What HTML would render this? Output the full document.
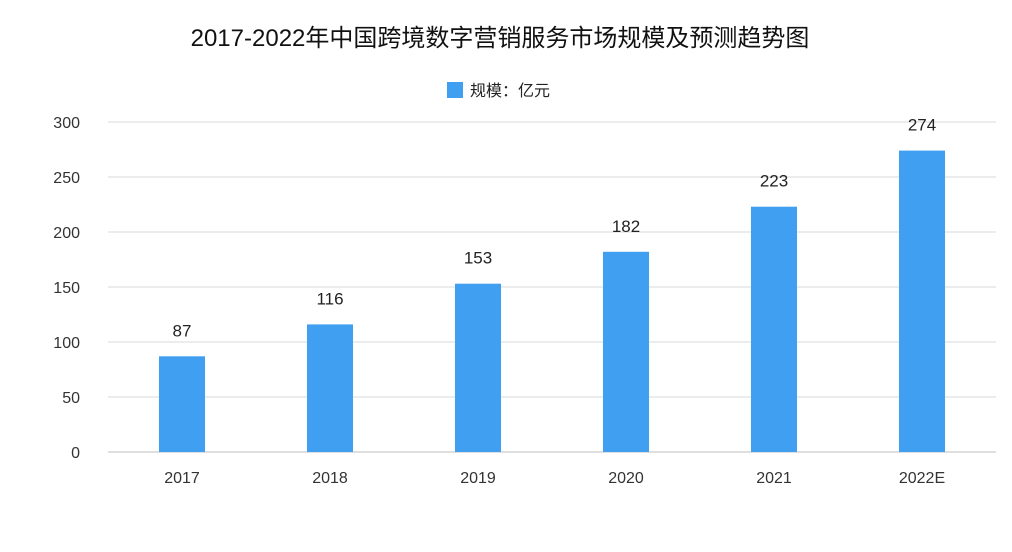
<!DOCTYPE html>
<html><head><meta charset="utf-8"><style>
body{margin:0;background:#fff;width:1012px;height:547px;overflow:hidden}
svg text{font-family:"Liberation Sans","Noto Sans CJK SC",sans-serif}
</style></head><body>
<svg id="c" width="1012" height="547">
<text x="500" y="46" text-anchor="middle" font-size="24" fill="#111" style="font-family:'Liberation Sans','Noto Sans CJK SC',sans-serif">2017-2022年中国跨境数字营销服务市场规模及预测趋势图</text>
<g>
<rect x="447" y="82" width="16" height="16" fill="#409ff1"/>
<text x="470" y="96" font-size="16" fill="#222">规模：亿元</text>
</g>
<g id="grid"></g><g id="bars"></g>
</svg>
<script>
const categories=["2017","2018","2019","2020","2021","2022E"];
const values=[87,116,153,182,223,274];
const yTicks=[0,50,100,150,200,250,300];
const svg=document.getElementById('c'),NS="http://www.w3.org/2000/svg";
const x0=108,band=148,y0=452,yMax=300,ph=330,bw=46;
const y=v=>y0-v/yMax*ph;
const xc=i=>x0+band*(i+0.5);
function mk(t,a,p){const e=document.createElementNS(NS,t);for(const k in a)e.setAttribute(k,a[k]);(p||svg).appendChild(e);return e;}
const g=document.getElementById('grid'),b=document.getElementById('bars');
yTicks.forEach(t=>{
 const l=mk('line',{x1:108,x2:996,y1:y(t),y2:y(t),stroke:t===0?'#bfbfbf':'#d9d9d9','stroke-width':1},g);
 
 
 const tx=mk('text',{x:80,y:y(t)+6,'text-anchor':'end','font-size':16,fill:'#333'},g);tx.textContent=t;
 
 
});
categories.forEach((c,i)=>{
 const r=mk('rect',{x:xc(i)-bw/2,y:y(values[i]),width:bw,height:y0-y(values[i]),fill:'#409ff1'},b);
 
 
 const v=mk('text',{x:xc(i),y:y(values[i])-20,'text-anchor':'middle','font-size':17,fill:'#222'},b);v.textContent=values[i];
 
 
 const xl=mk('text',{x:xc(i),y:483,'text-anchor':'middle','font-size':16,fill:'#333'},b);xl.textContent=c;
 
 
});
</script>
</body></html>
